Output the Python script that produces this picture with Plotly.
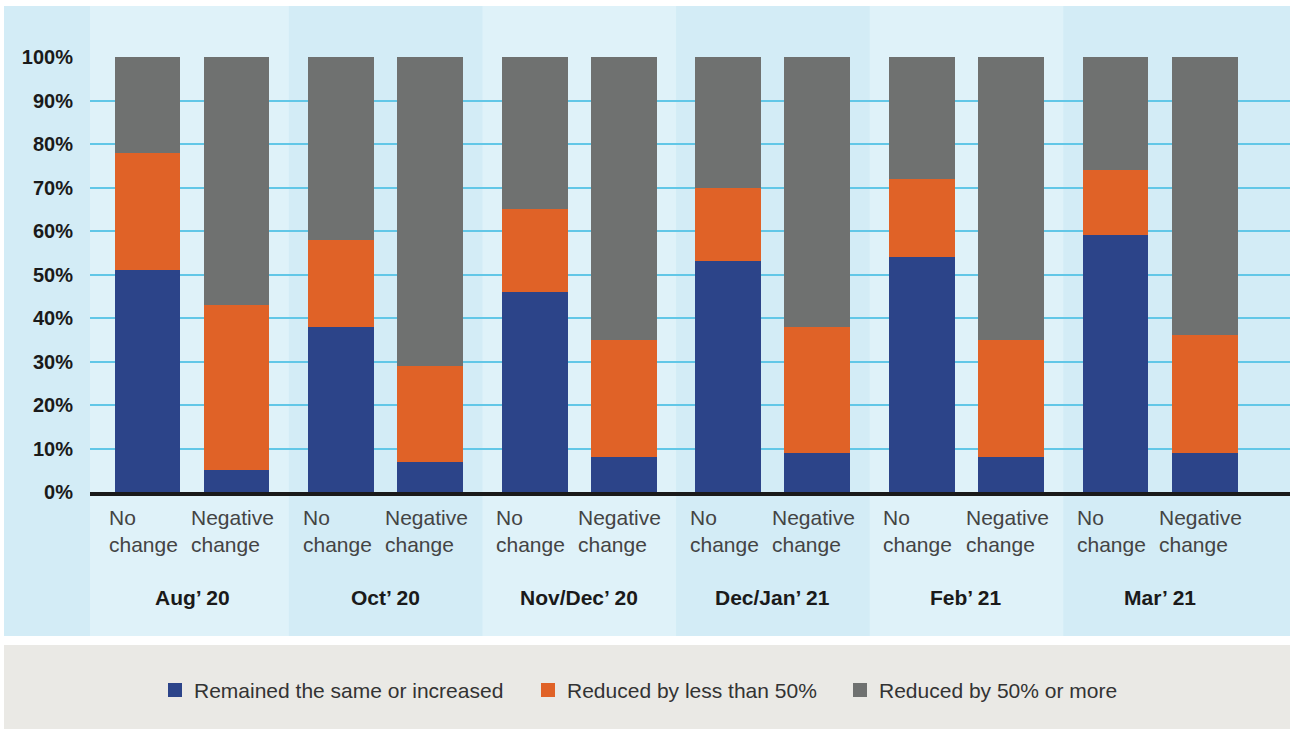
import plotly.graph_objects as go

# ---- data ----
groups = ["Aug’ 20", "Oct’ 20", "Nov/Dec’ 20", "Dec/Jan’ 21", "Feb’ 21", "Mar’ 21"]
categories = ["No<br>change", "Negative<br>change"]
series_names = ["Remained the same or increased", "Reduced by less than 50%", "Reduced by 50% or more"]

# values per group: [No change, Negative change]
remained = [51, 5, 38, 7, 46, 8, 53, 9, 54, 8, 59, 9]
reduced_lt50 = [27, 38, 20, 22, 19, 27, 17, 29, 18, 27, 15, 27]
reduced_ge50 = [22, 57, 42, 71, 35, 65, 30, 62, 28, 65, 26, 64]

y_ticks = [0, 10, 20, 30, 40, 50, 60, 70, 80, 90, 100]
y_ticktext = [f"{v}%" for v in y_ticks]

colors = ["#2c4489", "#e06227", "#6f7170"]

# ---- layout helpers ----
W, H = 1290, 729
ML, MR, MT, MB = 90, 0, 57, 237
plot_w = W - ML - MR
plot_h = H - MT - MB
def py(px):  # pixel y -> paper y
    return (H - MB - px) / plot_h
def pxx(px):  # pixel x -> paper x
    return (px - ML) / plot_w

offset = 0.23
bar_x = []
for gi in range(len(groups)):
    bar_x += [gi - offset, gi + offset]

fig = go.Figure()
for name, vals, c in zip(series_names, [remained, reduced_lt50, reduced_ge50], colors):
    fig.add_trace(go.Bar(x=bar_x, y=vals, name=name, marker=dict(color=c, line=dict(width=0)),
                         width=0.34, hoverinfo="skip", showlegend=False))

x_lo, x_hi = -0.527, 5.671

shapes = []
# whole top panel (darker blue)
shapes.append(dict(type="rect", xref="paper", yref="paper", x0=pxx(4), x1=pxx(1290),
                   y0=py(636), y1=py(6), fillcolor="#d3ecf6", line=dict(width=0), layer="below"))
# lighter bands for alternating groups
for gi in range(len(groups)):
    if gi % 2 == 0:
        x0 = x_lo if gi == 0 else gi - 0.5
        shapes.append(dict(type="rect", xref="x", yref="paper", x0=x0, x1=gi + 0.5,
                           y0=py(636), y1=py(6), fillcolor="#dff2f9", line=dict(width=0), layer="below"))
# legend box
shapes.append(dict(type="rect", xref="paper", yref="paper", x0=pxx(4), x1=pxx(1290),
                   y0=py(729), y1=py(645), fillcolor="#eae9e5", line=dict(width=0), layer="below"))
# baseline
shapes.append(dict(type="line", xref="paper", yref="paper", x0=0, x1=1, y0=py(494), y1=py(494),
                   line=dict(color="#1a1a1a", width=4), layer="above"))

annotations = []
for i, bx in enumerate(bar_x):
    annotations.append(dict(x=bx, y=py(504), xref="x", yref="paper", text=categories[i % 2],
                            showarrow=False, xanchor="center", yanchor="top", align="left",
                            xshift=-4,
                            font=dict(family="Liberation Sans", size=21, color="#444444")))
for gi, g in enumerate(groups):
    annotations.append(dict(x=gi, y=py(597), xref="x", yref="paper", text=g,
                            showarrow=False, xanchor="center", yanchor="middle",
                            font=dict(family="Liberation Sans", size=21, color="#1a1a1a", weight="bold")))

# manual legend (swatch + label)
legend_sq_x = [168, 541, 853]
for name, c, sx in zip(series_names, colors, legend_sq_x):
    shapes.append(dict(type="rect", xref="paper", yref="paper", x0=pxx(sx), x1=pxx(sx + 14),
                       y0=py(697), y1=py(683), fillcolor=c, line=dict(width=0), layer="above"))
    annotations.append(dict(x=pxx(sx + 24), y=py(690), xref="paper", yref="paper", text=name,
                            showarrow=False, xanchor="left", yanchor="middle",
                            font=dict(family="Liberation Sans", size=21, color="#333333")))

fig.update_layout(
    width=W, height=H,
    margin=dict(l=ML, r=MR, t=MT, b=MB, pad=0),
    paper_bgcolor="white", plot_bgcolor="rgba(0,0,0,0)",
    barmode="stack", bargap=0,
    shapes=shapes, annotations=annotations,
    showlegend=False,
    xaxis=dict(range=[x_lo, x_hi], showticklabels=False, showgrid=False, zeroline=False,
               ticks="", fixedrange=True),
    yaxis=dict(range=[0, 100], tickvals=y_ticks, ticktext=y_ticktext, showgrid=True,
               gridcolor="#62c7e7", gridwidth=2, zeroline=False, ticks="outside", ticklen=12,
               tickcolor="rgba(0,0,0,0)",
               tickfont=dict(family="Liberation Sans", size=20, color="#1a1a1a", weight="bold"),
               fixedrange=True),
)

fig.write_html("out.html", config={"displayModeBar": False},
               post_script="document.body.style.margin='0';")
